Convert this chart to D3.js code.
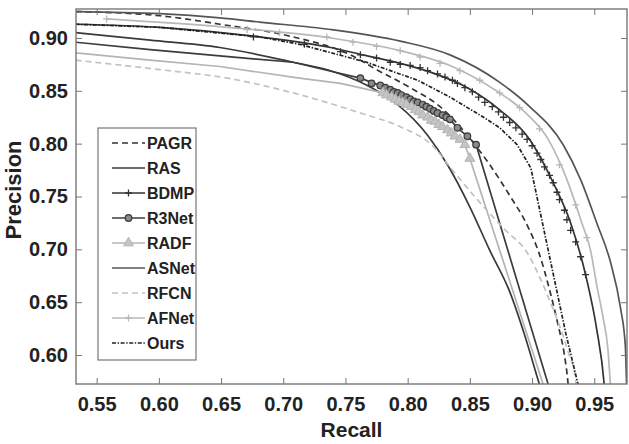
<!doctype html>
<html>
<head>
<meta charset="utf-8">
<script src="https://d3js.org/d3.v7.min.js"></script>
<style>
  body { margin: 0; background: #fff; }
  text { font-family: "Liberation Sans", Arial, Helvetica, sans-serif; font-weight: bold; fill: #222; }
</style>
</head>
<body>
<svg width="629" height="444"></svg>
<script>
// tick labels
var recallTicks = [0.55, 0.60, 0.65, 0.70, 0.75, 0.80, 0.85, 0.90, 0.95];
var precisionTicks = [0.60, 0.65, 0.70, 0.75, 0.80, 0.85, 0.90];

// curves (recall, precision)
var pagrRecall    = [0.533,0.601,0.649,0.708,0.754,0.775,0.802,0.826,0.850,0.866,0.882,0.896,0.906,0.914,0.921,0.926,0.929,0.930];
var pagrPrecision = [0.925,0.921,0.913,0.901,0.884,0.870,0.853,0.835,0.805,0.780,0.751,0.723,0.695,0.662,0.628,0.600,0.572,0.557];

var rasRecall    = [0.533,0.593,0.649,0.708,0.738,0.766,0.792,0.816,0.832,0.850,0.866,0.882,0.894,0.906,0.910];
var rasPrecision = [0.905,0.898,0.891,0.877,0.869,0.856,0.837,0.808,0.780,0.740,0.699,0.660,0.619,0.572,0.557];

var bdmpRecall    = [0.533,0.601,0.681,0.738,0.764,0.794,0.820,0.848,0.874,0.898,0.917,0.931,0.943,0.952,0.958,0.959];
var bdmpPrecision = [0.913,0.910,0.901,0.891,0.884,0.876,0.867,0.853,0.832,0.804,0.763,0.725,0.676,0.624,0.572,0.557];
var bdmpMarkRecall    = [0.676,0.717,0.746,0.762,0.775,0.786,0.794,0.802,0.810,0.816,0.824,0.830,0.836,0.840,0.846,0.852,0.857,0.862,0.868,0.873,
                         0.877,0.882,0.887,0.892,0.896,0.900,0.904,0.907,0.910,0.914,0.917,0.920,0.922,0.926,0.928,0.931,0.935,0.939,0.943];
var bdmpMarkPrecision = [0.901,0.894,0.887,0.884,0.881,0.877,0.875,0.874,0.872,0.869,0.866,0.863,0.860,0.857,0.853,0.849,0.844,0.839,0.835,0.830,
                         0.825,0.820,0.815,0.809,0.804,0.798,0.791,0.785,0.778,0.770,0.763,0.754,0.747,0.737,0.728,0.718,0.707,0.693,0.676];

var r3netRecall    = [0.533,0.593,0.649,0.708,0.740,0.762,0.782,0.834,0.840,0.848,0.855,0.913,0.916];
var r3netPrecision = [0.896,0.889,0.883,0.877,0.868,0.862,0.853,0.823,0.815,0.807,0.799,0.572,0.557];
var r3netMarkRecall    = [0.762,0.771,0.778,0.782,0.786,0.789,0.792,0.795,0.799,0.802,0.805,0.808,0.812,0.815,0.818,0.821,0.824,0.828,0.831,0.834,0.840,0.848,0.855];
var r3netMarkPrecision = [0.862,0.857,0.855,0.853,0.851,0.849,0.848,0.846,0.844,0.842,0.840,0.839,0.837,0.835,0.833,0.831,0.829,0.827,0.825,0.823,0.815,0.807,0.799];

var radfRecall    = [0.533,0.593,0.649,0.713,0.746,0.780,0.810,0.834,0.846,0.850,0.909,0.913];
var radfPrecision = [0.886,0.879,0.873,0.862,0.857,0.848,0.829,0.811,0.799,0.786,0.572,0.557];
var radfMarkRecall    = [0.780,0.783,0.787,0.790,0.793,0.796,0.799,0.803,0.806,0.809,0.812,0.816,0.819,0.822,0.825,0.828,0.832,0.835,0.838,0.842,0.846,0.850];
var radfMarkPrecision = [0.848,0.846,0.844,0.842,0.840,0.839,0.837,0.835,0.832,0.830,0.827,0.825,0.822,0.821,0.818,0.816,0.813,0.810,0.807,0.804,0.799,0.786];

var asnetRecall    = [0.533,0.601,0.649,0.681,0.738,0.794,0.834,0.874,0.898,0.925,0.939,0.952,0.963,0.971,0.975,0.976,0.977];
var asnetPrecision = [0.925,0.923,0.919,0.915,0.908,0.897,0.884,0.858,0.835,0.799,0.766,0.725,0.688,0.645,0.608,0.572,0.557];

var rfcnRecall    = [0.533,0.601,0.655,0.708,0.762,0.794,0.820,0.836,0.856,0.877,0.897,0.906,0.914,0.922,0.929,0.935,0.936];
var rfcnPrecision = [0.879,0.870,0.862,0.848,0.829,0.816,0.798,0.775,0.747,0.720,0.695,0.674,0.652,0.628,0.603,0.576,0.562];

var afnetRecall    = [0.558,0.655,0.738,0.794,0.834,0.870,0.894,0.913,0.928,0.940,0.947,0.952,0.957,0.961,0.963,0.964];
var afnetPrecision = [0.918,0.910,0.900,0.888,0.874,0.851,0.830,0.804,0.766,0.725,0.699,0.666,0.636,0.605,0.572,0.557];
var afnetMarkRecall    = [0.558,0.671,0.697,0.735,0.756,0.775,0.794,0.810,0.826,0.842,0.858,0.874,0.890,0.906,0.922,0.935,0.944];
var afnetMarkPrecision = [0.918,0.908,0.905,0.901,0.896,0.892,0.888,0.882,0.876,0.869,0.860,0.848,0.834,0.814,0.780,0.742,0.711];

var oursRecall    = [0.533,0.601,0.681,0.713,0.767,0.808,0.834,0.861,0.874,0.888,0.899,0.913,0.927,0.937,0.939];
var oursPrecision = [0.913,0.910,0.901,0.894,0.877,0.860,0.844,0.825,0.815,0.799,0.777,0.699,0.621,0.572,0.562];

var legendNames = ["PAGR", "RAS", "BDMP", "R3Net", "RADF", "ASNet", "RFCN", "AFNet", "Ours"];

function pts(r, p) { return r.map(function(d, i) { return [d, p[i]]; }); }

// styles per method
var series = [
  {name: "PAGR",  line: pts(pagrRecall, pagrPrecision),   color: "#353535", dash: "6,4", curve: d3.curveMonotoneX},
  {name: "RAS",   line: pts(rasRecall, rasPrecision),     color: "#3a3a3a", dash: null, curve: d3.curveMonotoneX},
  {name: "BDMP",  line: pts(bdmpRecall, bdmpPrecision),   color: "#333333", dash: null, curve: d3.curveMonotoneX,
     marks: pts(bdmpMarkRecall, bdmpMarkPrecision), marker: "plus"},
  {name: "R3Net", line: pts(r3netRecall, r3netPrecision), color: "#3c3c3c", dash: null, curve: d3.curveLinear,
     marks: pts(r3netMarkRecall, r3netMarkPrecision), marker: "circle"},
  {name: "RADF",  line: pts(radfRecall, radfPrecision),   color: "#b4b4b4", dash: null, curve: d3.curveLinear,
     marks: pts(radfMarkRecall, radfMarkPrecision), marker: "triangle"},
  {name: "ASNet", line: pts(asnetRecall, asnetPrecision), color: "#555555", dash: null, curve: d3.curveMonotoneX},
  {name: "RFCN",  line: pts(rfcnRecall, rfcnPrecision),   color: "#c2c2c2", dash: "6,4", curve: d3.curveMonotoneX},
  {name: "AFNet", line: pts(afnetRecall, afnetPrecision), color: "#b8b8b8", dash: null, curve: d3.curveMonotoneX,
     marks: pts(afnetMarkRecall, afnetMarkPrecision), marker: "plus"},
  {name: "Ours",  line: pts(oursRecall, oursPrecision),   color: "#222222", dash: "4,1.6,1.4,1.6", curve: d3.curveLinear}
];

var svg = d3.select("svg");
var pL = 76, pT = 9, pR = 627, pB = 384;

var x = d3.scaleLinear().domain([0.5334, 0.9763]).range([pL, pR]);
var y = d3.scaleLinear().domain([0.5726, 0.9274]).range([pB, pT]);

svg.append("clipPath").attr("id", "plot")
  .append("rect").attr("x", pL).attr("y", pT).attr("width", pR - pL).attr("height", pB - pT);

var plot = svg.append("g").attr("clip-path", "url(#plot)");

function drawMarker(sel, type, color) {
  if (type === "plus") {
    sel.append("path").attr("d", "M-3.5,0H3.5M0,-3.5V3.5")
      .attr("stroke", color).attr("stroke-width", 1.3).attr("fill", "none");
  } else if (type === "circle") {
    sel.append("circle").attr("r", 3.3)
      .attr("fill", "#8a8a8a").attr("stroke", color).attr("stroke-width", 1.2);
  } else if (type === "triangle") {
    sel.append("path").attr("d", d3.symbol().type(d3.symbolTriangle).size(42)())
      .attr("fill", "#c4c4c4").attr("stroke", color).attr("stroke-width", 1);
  }
}

series.forEach(function(s) {
  var line = d3.line().x(function(d) { return x(d[0]); }).y(function(d) { return y(d[1]); }).curve(s.curve);
  plot.append("path").datum(s.line)
    .attr("d", line)
    .attr("fill", "none")
    .attr("stroke", s.color)
    .attr("stroke-width", 1.7)
    .attr("stroke-dasharray", s.dash);
  if (s.marks) {
    plot.append("g").selectAll("g").data(s.marks).enter().append("g")
      .attr("transform", function(d) { return "translate(" + x(d[0]) + "," + y(d[1]) + ")"; })
      .each(function() { drawMarker(d3.select(this), s.marker, s.color); });
  }
});

// axes, ticks pointing inward on all four sides
var axisColor = "#777";
var xb = svg.append("g").attr("transform", "translate(0," + pB + ")")
  .call(d3.axisBottom(x).tickValues(recallTicks).tickFormat(d3.format(".2f")).tickSizeInner(-6).tickSizeOuter(0).tickPadding(13));
var xt = svg.append("g").attr("transform", "translate(0," + pT + ")")
  .call(d3.axisTop(x).tickValues(recallTicks).tickFormat("").tickSizeInner(-6).tickSizeOuter(0));
var yl = svg.append("g").attr("transform", "translate(" + pL + ",0)")
  .call(d3.axisLeft(y).tickValues(precisionTicks).tickFormat(d3.format(".2f")).tickSizeInner(-6).tickSizeOuter(0).tickPadding(8));
var yr = svg.append("g").attr("transform", "translate(" + pR + ",0)")
  .call(d3.axisRight(y).tickValues(precisionTicks).tickFormat("").tickSizeInner(-6).tickSizeOuter(0));

[xb, xt, yl, yr].forEach(function(a) {
  a.select(".domain").remove();
  a.selectAll("line").attr("stroke", axisColor).attr("stroke-width", 1);
  a.selectAll("text").style("font-size", "20px").style("font-family", "Liberation Sans, Arial, sans-serif")
    .style("font-weight", "bold").attr("fill", "#222");
});

svg.append("rect").attr("x", pL).attr("y", pT).attr("width", pR - pL).attr("height", pB - pT)
  .attr("fill", "none").attr("stroke", axisColor).attr("stroke-width", 1.4);

// axis titles
svg.append("text").attr("x", (pL + pR) / 2).attr("y", 437)
  .attr("text-anchor", "middle").style("font-size", "21px").text("Recall");
svg.append("text").attr("transform", "translate(21,190)rotate(-90)")
  .attr("text-anchor", "middle").style("font-size", "22px").text("Precision");

// legend
var lg = svg.append("g");
lg.append("rect").attr("x", 98).attr("y", 128).attr("width", 98).attr("height", 232)
  .attr("fill", "#fff").attr("stroke", axisColor).attr("stroke-width", 1.2);

legendNames.forEach(function(n, i) {
  var s = series.filter(function(d) { return d.name === n; })[0];
  var ly = 143 + i * 25;
  lg.append("line").attr("x1", 112).attr("x2", 145).attr("y1", ly).attr("y2", ly)
    .attr("stroke", s.color).attr("stroke-width", 1.7).attr("stroke-dasharray", s.dash);
  if (s.marker) {
    drawMarker(lg.append("g").attr("transform", "translate(128.5," + ly + ")"), s.marker, s.color);
  }
  lg.append("text").attr("x", 147).attr("y", ly).attr("dy", "0.36em")
    .style("font-size", "16px").text(n);
});
</script>
</body>
</html>
